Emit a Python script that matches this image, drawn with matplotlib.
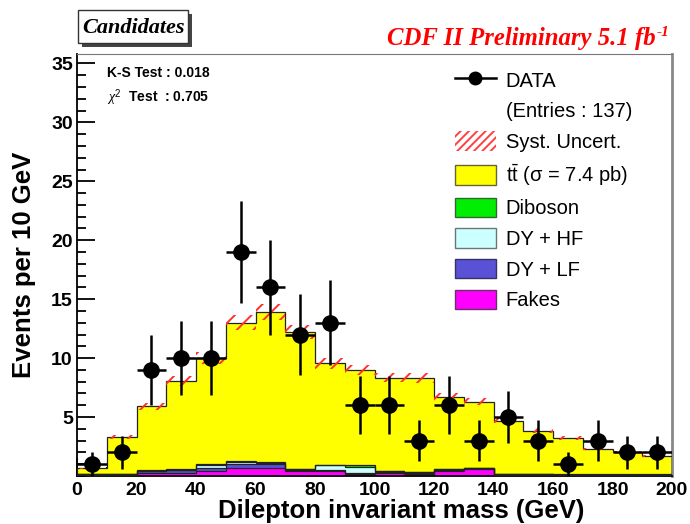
import numpy as np
import matplotlib
matplotlib.use("Agg")
import matplotlib.pyplot as plt
from matplotlib.patches import Patch, Rectangle
from matplotlib.lines import Line2D
from matplotlib.ticker import MultipleLocator

# ---------------- data ----------------
bin_edges = np.arange(0, 210, 10)
data_counts = [1, 2, 9, 10, 10, 19, 16, 12, 13, 6, 6, 3, 6, 3, 5, 3, 1, 3, 2, 2]
total_mc = [0.65, 3.3, 5.9, 8.05, 10.0, 13.0, 13.9, 12.2, 9.55, 9.0,
            8.35, 8.3, 6.7, 6.3, 4.7, 3.85, 3.25, 2.3, 2.05, 1.7]
fakes = [0.05, 0.05, 0.25, 0.25, 0.45, 0.70, 0.65, 0.40, 0.40, 0.15,
         0.25, 0.15, 0.45, 0.60, 0.05, 0.05, 0.05, 0.05, 0.05, 0.05]
dy_lf = [0.10, 0.08, 0.15, 0.25, 0.20, 0.30, 0.40, 0.15, 0.15, 0.10,
         0.10, 0.10, 0.10, 0.05, 0.08, 0.08, 0.05, 0.05, 0.05, 0.05]
dy_hf = [0.02, 0.02, 0.05, 0.05, 0.30, 0.20, 0.05, 0.05, 0.35, 0.55,
         0.05, 0.05, 0.02, 0.02, 0.02, 0.02, 0.02, 0.02, 0.02, 0.02]
diboson = [0.00, 0.00, 0.02, 0.02, 0.05, 0.05, 0.05, 0.03, 0.05, 0.15,
           0.05, 0.02, 0.02, 0.02, 0.02, 0.01, 0.01, 0.01, 0.01, 0.01]
syst_frac = 0.05

legend_labels = ["DATA", "(Entries : 137)", "Syst. Uncert.", r"t$\bar{\rm t}$ (σ = 7.4 pb)",
                 "Diboson", "DY + HF", "DY + LF", "Fakes"]
colors = {"fakes": "#ff00ff", "dylf": "#5a52d6", "dyhf": "#ccffff",
          "diboson": "#00ee00", "tt": "#ffff00"}

# ---------------- derived ----------------
edges = np.asarray(bin_edges, float)
centers = 0.5 * (edges[:-1] + edges[1:])
data = np.asarray(data_counts, float)
tot = np.asarray(total_mc, float)
comps = [np.asarray(fakes), np.asarray(dy_lf), np.asarray(dy_hf), np.asarray(diboson)]
tt = tot - sum(comps)
layers = comps + [tt]
layer_cols = [colors["fakes"], colors["dylf"], colors["dyhf"], colors["diboson"], colors["tt"]]

plt.rcParams["font.family"] = ["Liberation Sans", "DejaVu Sans"]
plt.rcParams["mathtext.fontset"] = "custom"
plt.rcParams["mathtext.rm"] = "Liberation Sans"
plt.rcParams["mathtext.it"] = "Liberation Serif:italic"
plt.rcParams["hatch.linewidth"] = 1.4

fig = plt.figure(figsize=(6.9, 5.24), dpi=100)
ax = fig.add_axes([77 / 690, 1 - 476 / 524, 595 / 690, 422 / 524])

bottom = np.zeros_like(tot)
for lay, col in zip(layers, layer_cols):
    top = bottom + lay
    ax.stairs(top, edges, baseline=bottom, fill=True, color=col, lw=0, zorder=2)
    ax.stairs(top, edges, baseline=0, fill=False, color="#222222", lw=0.9, zorder=3)
    bottom = top

# systematic band
err = tot * syst_frac
ax.bar(edges[:-1], 2 * err, bottom=tot - err, width=10, align="edge",
       fill=False, hatch="//", edgecolor="#ff3030", lw=0, zorder=4)

# data
ax.errorbar(centers, data, yerr=np.sqrt(data), xerr=5, fmt="o", color="black",
            ms=11, elinewidth=1.8, capsize=0, zorder=6)

ax.set_xlim(0, 200)
ax.set_ylim(0, 35.8)
ax.xaxis.set_minor_locator(MultipleLocator(10))
ax.yaxis.set_minor_locator(MultipleLocator(1))
ax.set_yticks([5, 10, 15, 20, 25, 30, 35])
ax.set_xticks(np.arange(0, 201, 20))
ax.tick_params(which="both", direction="in", top=False, right=False, width=1.3)
ax.tick_params(which="major", length=12.7, labelsize=14)
ax.tick_params(which="minor", length=6.3)
ax.tick_params(axis="x", pad=4)
ax.tick_params(axis="y", pad=3)
for lab in ax.get_xticklabels() + ax.get_yticklabels():
    lab.set_fontweight("bold")
ax.spines["left"].set_linewidth(1.3)
ax.spines["bottom"].set_linewidth(1.3)
ax.spines["top"].set_color("#777777")
ax.spines["right"].set_color("#888888")
ax.spines["right"].set_linewidth(2)

ax.set_xlabel("Dilepton invariant mass (GeV)", fontsize=18.5, fontweight="bold",
              labelpad=0, x=(401 - 77) / 595)
ax.set_ylabel("Events per 10 GeV", fontsize=18.5, fontweight="bold", labelpad=11)

# statistics text
fig.text(107 / 690, 1 - 73 / 524, "K-S Test : 0.018",
         fontsize=10, fontweight="bold", va="center", ha="left")
fig.text(107 / 690, 1 - 98 / 524, r"$\mathit{\chi}^{2}$  Test  : 0.705",
         fontsize=10, fontweight="bold", va="center", ha="left")

# legend
handles = [
    Line2D([], [], color="black", marker="o", ms=9, lw=1.8),
    Patch(facecolor="none", edgecolor="none"),
    Patch(facecolor="none", edgecolor="#ff4040", hatch="////", lw=0),
    Patch(facecolor=colors["tt"], edgecolor="#666633", lw=1),
    Patch(facecolor=colors["diboson"], edgecolor="#336633", lw=1),
    Patch(facecolor=colors["dyhf"], edgecolor="#667777", lw=1),
    Patch(facecolor=colors["dylf"], edgecolor="#333366", lw=1),
    Patch(facecolor=colors["fakes"], edgecolor="#663366", lw=1),
]
leg = ax.legend(handles, legend_labels, loc="upper left", bbox_to_anchor=(0.612, 0.995),
                frameon=False, fontsize=14.5, handlelength=2.0, handleheight=1.1,
                handletextpad=0.5, labelspacing=0.5, borderpad=0.2)
leg.set_zorder(10)

# Candidates box with shadow
fig.patches.append(Rectangle((82 / 690, 1 - 47 / 524), 110 / 690, 33 / 524,
                             transform=fig.transFigure, facecolor="#444444",
                             edgecolor="none", zorder=1))
fig.patches.append(Rectangle((78 / 690, 1 - 43 / 524), 110 / 690, 33 / 524,
                             transform=fig.transFigure, facecolor="white",
                             edgecolor="#333333", lw=1, zorder=2))
fig.text(133 / 690, 1 - 28 / 524, "Candidates", fontsize=16, fontweight="bold",
         fontstyle="italic", family="Liberation Serif", ha="center", va="center", zorder=3)

# CDF preliminary text with superscript
t = fig.text(387 / 690, 1 - 45 / 524, "CDF II Preliminary 5.1 fb", fontsize=17.8,
             fontweight="bold", fontstyle="italic", family="Liberation Serif",
             color="#ff0000", ha="left", va="baseline")
fig.canvas.draw()
bb = t.get_window_extent(fig.canvas.get_renderer())
fig.text(bb.x1 / fig.bbox.width + 0.001, (bb.y0 + 0.62 * bb.height) / fig.bbox.height, "-1",
         fontsize=11, fontweight="bold", fontstyle="italic", family="Liberation Serif",
         color="#ff0000", ha="left", va="baseline")

fig.savefig("out.png", dpi=100)
